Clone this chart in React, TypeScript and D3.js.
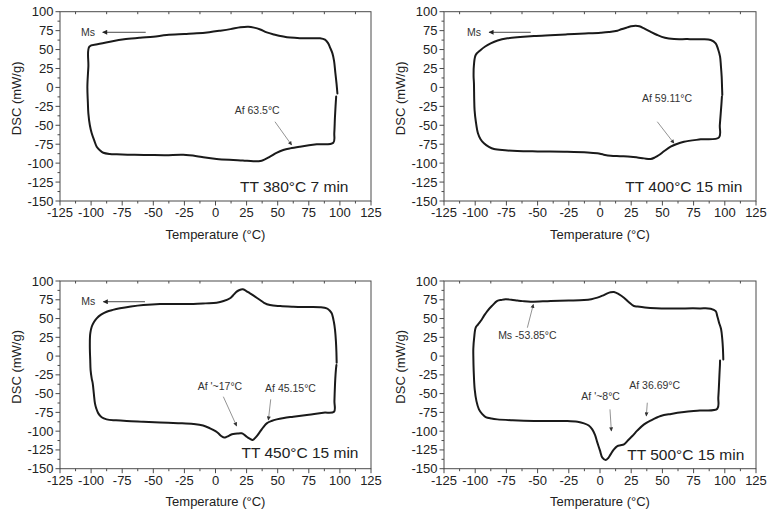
import React from "react";
import * as d3 from "d3";

// ---------- DATA ----------
const xTicks = [-125, -100, -75, -50, -25, 0, 25, 50, 75, 100, 125];
const yTicks = [-150, -125, -100, -75, -50, -25, 0, 25, 50, 75, 100];
const xTitle = "Temperature (°C)";
const yTitle = "DSC (mW/g)";
const panelTitles = ["TT 380°C 7 min", "TT 400°C 15 min", "TT 450°C 15 min", "TT 500°C 15 min"];

// each loop: [temperature, DSC]
const curve380: [number, number][] = [
  [98, -8], [97.3, 5], [96.3, 20], [95.3, 35], [94, 45], [92, 53], [90.5, 58.5], [88, 63], [84, 64.8], [75, 65], [67.9, 65],
  [60, 65.8], [54.5, 67.2], [47, 70], [41.2, 72.7], [36, 76.5], [31, 79], [26.4, 80.2], [20, 79.5], [12, 77], [3.6, 74.9],
  [-5, 73], [-15, 71.4], [-25, 70.5], [-39.2, 69.2], [-50, 67], [-60.7, 65.7], [-72, 63.8], [-84.8, 60.4], [-95, 57],
  [-101.4, 54], [-102.2, 27.4], [-103, 0.9], [-102.6, -20], [-102.2, -34.2], [-101, -50], [-99.5, -60.6], [-97.5, -70],
  [-95.5, -78.3], [-93, -83], [-90.2, -86.3], [-85, -88], [-79.4, -88.4], [-65, -89], [-52.7, -89.3], [-40, -89.5],
  [-25.9, -89], [-15, -90.8], [-9.8, -92.3], [0.9, -94.6], [14.3, -95.9], [22, -96.5], [30.4, -97.6], [37.1, -96.8],
  [43.8, -91.5], [49, -86.5], [54.5, -82.7], [60, -80.5], [67.9, -78.3], [81.4, -75.2], [94.7, -73], [95.5, -60],
  [96, -40], [96.5, -25], [97, -12],
];

const curve400: [number, number][] = [
  [98, -10], [97.8, 0], [97.5, 14.1], [96.9, 28], [96.2, 40.6], [94.5, 51], [92.7, 58.3], [88.7, 62.7], [80.7, 63.5],
  [70, 63.8], [59.3, 63.9], [52, 65.5], [45.9, 69.2], [40, 74], [35.3, 78], [31.5, 80.8], [28.6, 81.5], [25, 80.8],
  [21.9, 79.3], [17, 76.8], [13.9, 74.9], [7, 73.2], [0.5, 72.3], [-12, 71.2], [-26.2, 70.1], [-40, 69], [-52.9, 67.9],
  [-64, 66.5], [-74.2, 64.8], [-82, 62], [-87.6, 58.2], [-92, 54], [-95.6, 49.4], [-99.6, 42.8], [-101, 30], [-101.3, 15],
  [-101, 5.4], [-100.8, -15], [-100.5, -29.9], [-99.5, -45], [-97.8, -60.6], [-95.7, -68.5], [-93, -73.8], [-89, -78.5],
  [-84.9, -81.4], [-76, -83], [-66.3, -84], [-50, -84.5], [-26.2, -84.9], [-10, -85.8], [-2.2, -87], [3, -88.8],
  [8.6, -90.2], [16, -90.8], [24.6, -91.5], [30, -92.5], [35.3, -93.7], [40.6, -94.6], [44, -92.5], [47.3, -89.3],
  [51.5, -84], [56.6, -78.3], [61, -75], [67.3, -71.7], [80.7, -68.6], [95.4, -65.9], [96, -50], [96.7, -35],
  [97.3, -22], [97.7, -12],
];

const curve450: [number, number][] = [
  [97.4, -8.8], [97.2, 5], [96.8, 20], [96.1, 34.7], [95.2, 45], [93.4, 57], [91.5, 61], [89.4, 63.6], [84, 65], [75, 65.3],
  [62.5, 65.8], [52, 66.6], [43.8, 68], [39, 71], [35.8, 74.7], [31.5, 79.5], [27.7, 83.6], [24.5, 87], [21.8, 88.9],
  [19.3, 88], [17, 85.8], [14.2, 81], [11.7, 77], [6.5, 73.3], [0.9, 71.1], [-8, 70.2], [-17.8, 69.4], [-30, 69.3],
  [-44.6, 69.4], [-58, 68], [-68, 66], [-76.8, 63.6], [-82.5, 61.5], [-87.5, 59.1], [-92, 55.2], [-95.5, 50.3],
  [-97.8, 45], [-99.5, 39.1], [-100.6, 31], [-100.9, 25.8], [-101, 10], [-100.7, -5], [-100.4, -18.6], [-99.5, -30],
  [-98.7, -36.3], [-97.8, -50], [-96.9, -63], [-95.8, -70], [-94.2, -76.3], [-91.5, -81.5], [-87.5, -84.3], [-80, -85.6],
  [-71.4, -86.5], [-58, -87.4], [-44.6, -88.3], [-30, -89.3], [-17.8, -90.5], [-10, -92.5], [-4.4, -96.2], [0, -100],
  [2.3, -102.9], [4.3, -106], [6.3, -108.2], [8.3, -108], [10.3, -106.5], [12.3, -104.8], [14.3, -103.8], [17.5, -103.1],
  [21, -102.9], [23, -104.5], [25.1, -107.4], [27.5, -110], [29.9, -111.8], [32.5, -108], [35.8, -100.7], [38.5, -94.5],
  [41.2, -89.6], [45, -86.5], [49.2, -84.3], [55, -82.4], [62.5, -80.7], [75, -78], [86.7, -75.4], [95.3, -74.1],
  [95.6, -60], [95.9, -45], [96.3, -30], [96.8, -18], [97.2, -12],
];

const curve500: [number, number][] = [
  [98.8, -4.4], [98.5, 10], [98, 22.3], [97, 36], [95.4, 44.5], [94, 53], [92.7, 60], [88.7, 63.1], [80, 63.5], [65, 63.5],
  [54, 63.4], [45, 63.8], [36, 64.8], [30, 66], [27.2, 66.7], [23, 72], [19.2, 77.8], [15, 82.5], [11.2, 85.3], [8.5, 85],
  [5.9, 83.6], [2, 80.5], [-2.1, 77.8], [-7, 75.8], [-12.8, 74.7], [-25, 74], [-39.5, 73.4], [-55.6, 72.4], [-62, 73.2],
  [-66.2, 74], [-71, 75], [-75.6, 75.6], [-79, 74.8], [-82.3, 73.4], [-86.5, 67], [-90.3, 60], [-93, 53.5], [-95.6, 46.7],
  [-97.8, 42], [-99.6, 37.8], [-100.8, 25], [-101.5, 10], [-101.5, 0], [-101.2, -20], [-100.4, -44.3], [-99, -60],
  [-97, -71], [-94.5, -77], [-91.6, -81.2], [-87, -83.2], [-82.3, -84.3], [-70, -85.5], [-52.9, -86.5], [-40, -86.6],
  [-26.2, -86.5], [-18, -87.5], [-12.8, -89.6], [-9, -92.5], [-6.2, -97.6], [-4, -105], [-2.1, -115.3], [0, -126],
  [1.9, -135.3], [4.5, -138.4], [6.5, -136], [8.5, -130.9], [11, -124.5], [13.9, -119.8], [16.5, -118.8], [19.2, -117.6],
  [22.5, -112], [25.9, -106.5], [30, -99], [35.3, -91], [41, -85.5], [48.6, -79.8], [57, -77], [67.3, -74.5], [80, -72.5],
  [94, -70.1], [94.8, -55], [95.3, -40], [95.7, -25], [96.1, -12], [96.2, -6],
];

// annotations: label, label position [T, DSC], arrow from [T, DSC] to [T, DSC], kind
type Note = { text: string; at: [number, number]; from: [number, number]; to: [number, number]; dark?: boolean };
const notes380: Note[] = [
  { text: "Ms", at: [-102.5, 72.8], from: [-56.1, 72.8], to: [-90.7, 72.8], dark: true },
  { text: "Af 63.5°C", at: [33.5, -29.9], from: [47.8, -45.3], to: [61.2, -76.1] },
];
const notes400: Note[] = [
  { text: "Ms", at: [-101, 72.8], from: [-55.5, 72.8], to: [-88.9, 72.8], dark: true },
  { text: "Af 59.11°C", at: [53.7, -14.4], from: [45.9, -45.3], to: [59.3, -73.8] },
];
const notes450: Note[] = [
  { text: "Ms", at: [-102.2, 72.4], from: [-56.7, 72.4], to: [-90.2, 72.4], dark: true },
  { text: "Af '~17°C", at: [3.6, -39.9], from: [6.3, -54.1], to: [17, -93.2] },
  { text: "Af 45.15°C", at: [60.3, -42.9], from: [44.4, -57.6], to: [42.5, -85.2] },
];
const notes500: Note[] = [
  { text: "Ms -53.85°C", at: [-58.2, 27.6], from: [-58.2, 37.8], to: [-53.4, 68.9] },
  { text: "Af '~8°C", at: [0.5, -54.1], from: [8, -71], to: [9.1, -99.8] },
  { text: "Af 36.69°C", at: [43.8, -39], from: [37.9, -62.1], to: [37.1, -79.8] },
];
// title anchor [T, DSC] (centre, baseline)
const titleAt: [number, number][] = [[63.3, -138.2], [67.2, -138.2], [67.9, -136.2], [68.7, -138.4]];

const curves = [curve380, curve400, curve450, curve500];
const notes = [notes380, notes400, notes450, notes500];

// ---------- LAYOUT ----------
const W = 769;
const H = 513;
const boxes = [
  { x0: 60, x1: 371, y0: 11.7, y1: 201 },
  { x0: 444, x1: 756, y0: 11.7, y1: 201 },
  { x0: 60, x1: 371, y0: 281, y1: 468.7 },
  { x0: 444, x1: 756, y0: 281, y1: 468.7 },
];
const FONT = "'Liberation Sans', Arial, Helvetica, sans-serif";
const AXIS = "#4a4a4a";

function Panel({ i }: { i: number }) {
  const b = boxes[i];
  const x = d3.scaleLinear().domain([-125, 125]).range([b.x0, b.x1]);
  const y = d3.scaleLinear().domain([-150, 100]).range([b.y1, b.y0]);
  const line = d3
    .line<[number, number]>()
    .x((d) => x(d[0]))
    .y((d) => y(d[1]))
    .curve(d3.curveCatmullRom.alpha(0.5));
  const xMinor = xTicks.slice(0, -1).map((t, k) => (t + xTicks[k + 1]) / 2);
  const yMinor = yTicks.slice(0, -1).map((t, k) => (t + yTicks[k + 1]) / 2);
  const ta = titleAt[i];
  return (
    <g>
      {/* frame */}
      <rect x={b.x0} y={b.y0} width={b.x1 - b.x0} height={b.y1 - b.y0} fill="none" stroke={AXIS} strokeWidth={1} />
      {/* bottom ticks */}
      {xTicks.map((t) => (
        <line key={"xt" + t} x1={x(t)} x2={x(t)} y1={b.y1} y2={b.y1 + 4.5} stroke={AXIS} strokeWidth={1} />
      ))}
      {xMinor.map((t) => (
        <line key={"xm" + t} x1={x(t)} x2={x(t)} y1={b.y1} y2={b.y1 + 2.5} stroke={AXIS} strokeWidth={1} />
      ))}
      {xMinor.map((t) => (
        <line key={"xtop" + t} x1={x(t)} x2={x(t)} y1={b.y0} y2={b.y0 + 2.5} stroke={AXIS} strokeWidth={1} />
      ))}
      {/* left ticks */}
      {yTicks.map((t) => (
        <line key={"yt" + t} x1={b.x0 - 4.5} x2={b.x0} y1={y(t)} y2={y(t)} stroke={AXIS} strokeWidth={1} />
      ))}
      {yMinor.map((t) => (
        <line key={"ym" + t} x1={b.x0 - 2.5} x2={b.x0} y1={y(t)} y2={y(t)} stroke={AXIS} strokeWidth={1} />
      ))}
      {/* tick labels */}
      {xTicks.map((t) => (
        <text key={"xl" + t} x={x(t)} y={b.y1 + 16} textAnchor="middle" fontSize={13} fill="#222" fontFamily={FONT}>
          {t}
        </text>
      ))}
      {yTicks.map((t) => (
        <text key={"yl" + t} x={b.x0 - 6.5} y={y(t)} dy="0.35em" textAnchor="end" fontSize={13} fill="#222" fontFamily={FONT}>
          {t}
        </text>
      ))}
      {/* axis titles */}
      <text x={(b.x0 + b.x1) / 2} y={b.y1 + 37.5} textAnchor="middle" fontSize={13} fill="#222" fontFamily={FONT}>
        {xTitle}
      </text>
      <text
        transform={`translate(${b.x0 - 44},${(b.y0 + b.y1) / 2 - 8}) rotate(-90)`}
        textAnchor="middle"
        dy="0.35em"
        fontSize={13}
        fill="#222"
        fontFamily={FONT}
      >
        {yTitle}
      </text>
      {/* data loop */}
      <path d={line(curves[i]) || ""} fill="none" stroke="#1a1a1a" strokeWidth={2} strokeLinejoin="round" strokeLinecap="round" />
      {/* annotations */}
      {notes[i].map((n, k) => (
        <g key={"n" + k}>
          <line
            x1={x(n.from[0])}
            y1={y(n.from[1])}
            x2={x(n.to[0])}
            y2={y(n.to[1])}
            stroke={n.dark ? "#333" : "#777"}
            strokeWidth={n.dark ? 0.9 : 0.8}
            markerEnd={n.dark ? "url(#arrDark)" : "url(#arrGray)"}
          />
          <text x={x(n.at[0])} y={y(n.at[1])} dy="0.35em" textAnchor="middle" fontSize={10.5} fill="#333" fontFamily={FONT}>
            {n.text}
          </text>
        </g>
      ))}
      <text x={x(ta[0])} y={y(ta[1])} textAnchor="middle" fontSize={15.5} fill="#222" fontFamily={FONT}>
        {panelTitles[i]}
      </text>
    </g>
  );
}

export default function App() {
  return (
    <svg
      width={W}
      height={H}
      viewBox={`0 0 ${W} ${H}`}
      style={{ position: "absolute", left: 0, top: 0, background: "#fff" }}
    >
      <defs>
        <marker id="arrDark" viewBox="0 0 10 10" refX="9" refY="5" markerWidth="6" markerHeight="5" markerUnits="userSpaceOnUse" orient="auto">
          <path d="M0,0 L10,5 L0,10 z" fill="#222" />
        </marker>
        <marker id="arrGray" viewBox="0 0 10 10" refX="9" refY="5" markerWidth="5" markerHeight="4" markerUnits="userSpaceOnUse" orient="auto">
          <path d="M0,0 L10,5 L0,10 z" fill="#333" />
        </marker>
      </defs>
      <rect x={0} y={0} width={W} height={H} fill="#fff" />
      {boxes.map((_, i) => (
        <Panel key={i} i={i} />
      ))}
    </svg>
  );
}
